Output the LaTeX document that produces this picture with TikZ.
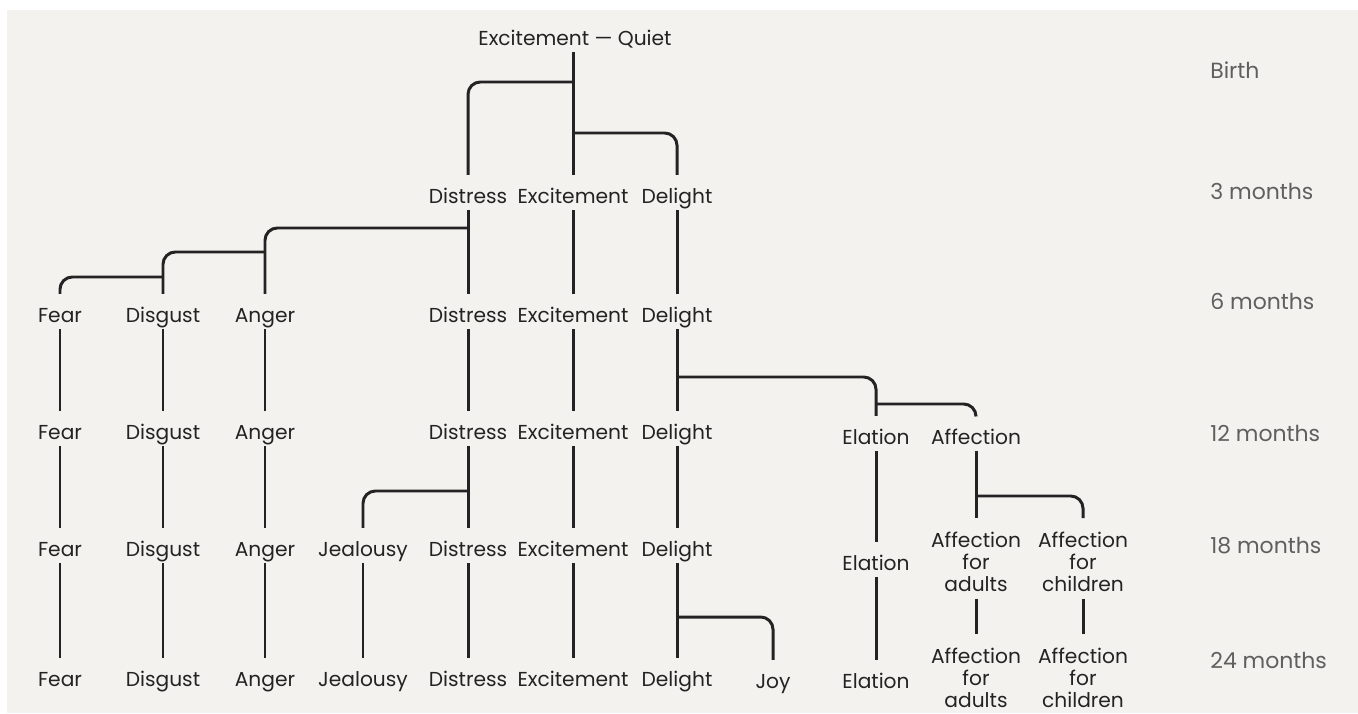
\documentclass[tikz,border=0pt]{standalone}
\usepackage{fontspec}
\setmainfont{Poppins}
\definecolor{paper}{RGB}{244,242,238}
\definecolor{ink}{RGB}{35,35,35}
\definecolor{faded}{RGB}{95,95,95}
\tikzset{
  emo/.style={font=\fontsize{11.5}{14}\selectfont, text=ink, inner sep=0pt, outer ysep=4pt, text height=8pt, text depth=0pt},
  emomulti/.style={font=\fontsize{11.5}{12.6}\selectfont, text=ink, inner sep=0pt, outer ysep=4pt, align=center},
  age/.style={font=\fontsize{12.5}{14}\selectfont, text=faded, anchor=west, inner sep=0pt},
  link/.style={draw=ink, line width=1.7pt, shorten >=4pt},
  branch/.style={link, rounded corners=7pt}
}

\begin{document}
\begin{tikzpicture}[x=0.02cm, y=-0.02cm]
                \fill[white] (0,0) rectangle (1358,713);
                \fill[paper] (7,10) rectangle (1358,713);
                \useasboundingbox (0,0) rectangle (1358,713);

                \node[emo] (exq) at (575,38) {Excitement — Quiet};

                \node[emo] (dis3) at (468,196) {Distress};
                \node[emo] (exc3) at (573,196) {Excitement};
                \node[emo] (del3) at (677,196) {Delight};

                \node[emo] (fear6) at (60,315) {Fear};
                \node[emo] (disg6) at (163,315) {Disgust};
                \node[emo] (ang6) at (265,315) {Anger};
                \node[emo] (dis6) at (468,315) {Distress};
                \node[emo] (exc6) at (573,315) {Excitement};
                \node[emo] (del6) at (677,315) {Delight};

                \node[emo] (fear12) at (60,432) {Fear};
                \node[emo] (disg12) at (163,432) {Disgust};
                \node[emo] (ang12) at (265,432) {Anger};
                \node[emo] (dis12) at (468,432) {Distress};
                \node[emo] (exc12) at (573,432) {Excitement};
                \node[emo] (del12) at (677,432) {Delight};
                \node[emo] (ela12) at (876,437) {Elation};
                \node[emo] (aff12) at (976,437) {Affection};

                \node[emo] (fear18) at (60,549) {Fear};
                \node[emo] (disg18) at (163,549) {Disgust};
                \node[emo] (ang18) at (265,549) {Anger};
                \node[emo] (jeal18) at (363,549) {Jealousy};
                \node[emo] (dis18) at (468,549) {Distress};
                \node[emo] (exc18) at (573,549) {Excitement};
                \node[emo] (del18) at (677,549) {Delight};
                \node[emo] (ela18) at (876,563) {Elation};
                \node[emomulti] (afa18) at (976,562) {Affection\\for\\adults};
                \node[emomulti] (afc18) at (1083,562) {Affection\\for\\children};

                \node[emo] (fear24) at (60,679) {Fear};
                \node[emo] (disg24) at (163,679) {Disgust};
                \node[emo] (ang24) at (265,679) {Anger};
                \node[emo] (jeal24) at (363,679) {Jealousy};
                \node[emo] (dis24) at (468,679) {Distress};
                \node[emo] (exc24) at (573,679) {Excitement};
                \node[emo] (del24) at (677,679) {Delight};
                \node[emo] (joy24) at (773,681) {Joy};
                \node[emo] (ela24) at (876,681) {Elation};
                \node[emomulti] (afa24) at (976,678) {Affection\\for\\adults};
                \node[emomulti] (afc24) at (1083,678) {Affection\\for\\children};

                \node[age] (birth) at (1210,70) {Birth};
                \node[age] (m3) at (1210,191) {3 months};
                \node[age] (m6) at (1210,301) {6 months};
                \node[age] (m12) at (1210,433) {12 months};
                \node[age] (m18) at (1210,546) {18 months};
                \node[age] (m24) at (1210,660) {24 months};

                \coordinate (j1) at (573,82);
                \coordinate (j2) at (573,133);
                \coordinate (j3) at (468,228);
                \coordinate (j4) at (265,252);
                \coordinate (j5) at (163,277);
                \coordinate (j6) at (677,377);
                \coordinate (j7) at (876,404);
                \coordinate (j8) at (468,491);
                \coordinate (j9) at (976,496);
                \coordinate (j10) at (677,617);

                \draw[link] (exq.south -| exc3) -- (exc3.north);
                \draw[branch] (j1) -| (dis3.north);
                \draw[branch] (j2) -| (del3.north);

                \draw[link] (dis3.south) -- (dis6.north);
                \draw[link] (exc3.south) -- (exc6.north);
                \draw[link] (del3.south) -- (del6.north);
                \draw[branch] (j3) -| (ang6.north);
                \draw[branch] (j4) -| (disg6.north);
                \draw[branch] (j5) -| (fear6.north);

                \draw[link] (fear6.south) -- (fear12.north);
                \draw[link] (disg6.south) -- (disg12.north);
                \draw[link] (ang6.south) -- (ang12.north);
                \draw[link] (dis6.south) -- (dis12.north);
                \draw[link] (exc6.south) -- (exc12.north);
                \draw[link] (del6.south) -- (del12.north);
                \draw[branch] (j6) -| (ela12.north);
                \draw[branch] (j7) -| (aff12.north);

                \draw[link] (fear12.south) -- (fear18.north);
                \draw[link] (disg12.south) -- (disg18.north);
                \draw[link] (ang12.south) -- (ang18.north);
                \draw[link] (dis12.south) -- (dis18.north);
                \draw[link] (exc12.south) -- (exc18.north);
                \draw[link] (del12.south) -- (del18.north);
                \draw[link] (ela12.south) -- (ela18.north);
                \draw[link] (aff12.south) -- (afa18.north);
                \draw[branch] (j8) -| (jeal18.north);
                \draw[branch] (j9) -| (afc18.north);

                \draw[link] (fear18.south) -- (fear24.north);
                \draw[link] (disg18.south) -- (disg24.north);
                \draw[link] (ang18.south) -- (ang24.north);
                \draw[link] (jeal18.south) -- (jeal24.north);
                \draw[link] (dis18.south) -- (dis24.north);
                \draw[link] (exc18.south) -- (exc24.north);
                \draw[link] (del18.south) -- (del24.north);
                \draw[link] (ela18.south) -- (ela24.north);
                \draw[link] (afa18.south) -- (afa24.north);
                \draw[link] (afc18.south) -- (afc24.north);
                \draw[branch] (j10) -| (joy24.north);
            \end{tikzpicture}
\end{document}
